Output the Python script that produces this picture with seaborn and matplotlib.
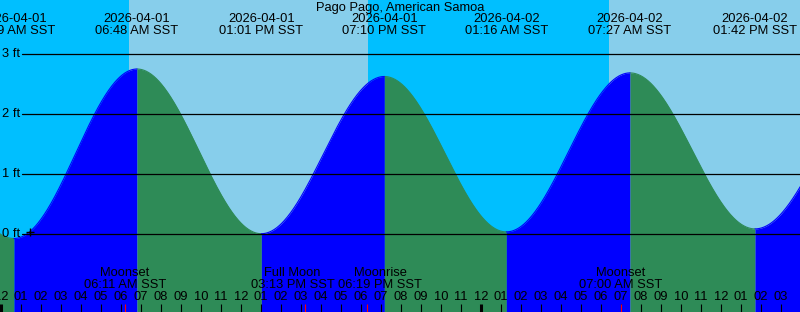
import numpy as np
import pandas as pd
import matplotlib
matplotlib.use("Agg")
import matplotlib.pyplot as plt
import seaborn as sns

# ---------------- data (hours from 2026-04-01 00:00 SST) ----------------
title = "Pago Pago, American Samoa"

tide_hours = [-5.95, 0.65, 6.80, 13.017, 19.167, 25.267, 31.45, 37.70, 44.10]
tide_heights = [2.70, -0.07, 2.755, 0.01, 2.63, 0.04, 2.69, 0.09, 2.62]
tide_dates = [None, "2026-04-01", "2026-04-01", "2026-04-01", "2026-04-01",
              "2026-04-02", "2026-04-02", "2026-04-02", None]
tide_times = [None, "12:39 AM SST", "06:48 AM SST", "01:01 PM SST", "07:10 PM SST",
              "01:16 AM SST", "07:27 AM SST", "01:42 PM SST", None]

sun_rise = [6.40, 30.40]
sun_set = [18.35, 44.0]

moon_hours = [6.183, 15.217, 18.317, 31.0]
moon_names = ["Moonset", "Full Moon", "Moonrise", "Moonset"]
moon_times = ["06:11 AM SST", "03:13 PM SST", "06:19 PM SST", "07:00 AM SST"]

level_ticks = [0, 1, 2, 3]
level_labels = ["0 ft", "1 ft", "2 ft", "3 ft"]

hour_ticks = list(range(0, 40))
hour_labels = ["12", "01", "02", "03", "04", "05", "06", "07", "08", "09", "10", "11"] * 3 + \
              ["12", "01", "02", "03"]

# ---------------- style ----------------
NIGHT = "#00BFFF"
DAY = "#87CEEB"
RISE = "#0000FF"
FALL = "#2E8B57"
X0, X1 = -0.05, 39.95
Y0, Y1 = -1.295, 3.905
FS = 9.3

sns.set_theme(style="white")
plt.rcParams["font.family"] = ["Liberation Sans", "DejaVu Sans"]

fig = plt.figure(figsize=(8.0, 3.12), dpi=100)
ax = fig.add_axes([0, 0, 1, 1])
ax.set_xlim(X0, X1)
ax.set_ylim(Y0, Y1)
ax.set_axis_off()

# background: night, then daylight spans
ax.axvspan(X0, X1, color=NIGHT, lw=0, zorder=0)
for r, s in zip(sun_rise, sun_set):
    ax.axvspan(r, s, color=DAY, lw=0, zorder=0.5)

# tide curve between extremes (cosine shape between each high/low)
rows = []
for i in range(len(tide_hours) - 1):
    t0, t1 = tide_hours[i], tide_hours[i + 1]
    h0, h1 = tide_heights[i], tide_heights[i + 1]
    tt = np.linspace(t0, t1, 200)
    hh = h0 + (h1 - h0) * (1 - np.cos(np.pi * (tt - t0) / (t1 - t0))) / 2
    phase = "rising" if h1 > h0 else "falling"
    for a, b in zip(tt, hh):
        rows.append((a, b, phase, i))
df = pd.DataFrame(rows, columns=["hour", "height", "phase", "seg"])

for seg, g in df.groupby("seg"):
    col = RISE if g["phase"].iloc[0] == "rising" else FALL
    ax.fill_between(g["hour"], Y0, g["height"], color=col, lw=0, zorder=1)

sns.lineplot(data=df, x="hour", y="height", hue="phase", units="seg",
             estimator=None, palette={"rising": RISE, "falling": FALL},
             lw=0.8, legend=False, ax=ax, zorder=1.5)
ax.set_xlim(X0, X1)
ax.set_ylim(Y0, Y1)
ax.set_axis_off()

# level lines and labels
for lv, lb in zip(level_ticks, level_labels):
    ax.axhline(lv, xmin=22 / 800, xmax=1, color="black", lw=0.9, zorder=3)
    ax.text(2.5 / 800, lv, lb, transform=ax.get_yaxis_transform(),
            ha="left", va="center", fontsize=FS, color="black", zorder=4)

# small plus mark
ax.plot([1.45], [0.04], marker="+", color="black", ms=6, mew=1.0, zorder=4)

# title and extreme labels
ax.text(0.5, 1 - 7.5 / 312, title, transform=ax.transAxes, ha="center",
        va="center", fontsize=FS, color="black", zorder=5)
for h, d, t in zip(tide_hours, tide_dates, tide_times):
    if d is None:
        continue
    ax.text(h, 1 - 19.5 / 312, d, transform=ax.get_xaxis_transform(),
            ha="center", va="center", fontsize=FS, color="black", zorder=5)
    ax.text(h, 1 - 31.5 / 312, t, transform=ax.get_xaxis_transform(),
            ha="center", va="center", fontsize=FS, color="black", zorder=5)

# hour ticks and labels
xt = ax.get_xaxis_transform()
for h, lb in zip(hour_ticks, hour_labels):
    lw = 2.2 if h % 24 == 0 else 0.8
    ax.vlines(h, 0, 8 / 312, transform=xt, color="black", lw=lw, zorder=5)
    ax.text(h, 15 / 312, lb, transform=xt, ha="center", va="center",
            fontsize=FS, color="black", zorder=5)

# moon events
label_shift = {1: -0.64, 2: 0.63}
for i, (h, nm, tm) in enumerate(zip(moon_hours, moon_names, moon_times)):
    ax.vlines(h, 0, 8 / 312, transform=xt, color="red", lw=0.8, zorder=6)
    xl = h + label_shift.get(i, 0.0)
    ax.text(xl, (312 - 273.5) / 312, nm, transform=xt, ha="center",
            va="center", fontsize=FS, color="black", zorder=5)
    ax.text(xl, (312 - 285.5) / 312, tm, transform=xt, ha="center",
            va="center", fontsize=FS, color="black", zorder=5)

fig.savefig("out.png", dpi=100)
